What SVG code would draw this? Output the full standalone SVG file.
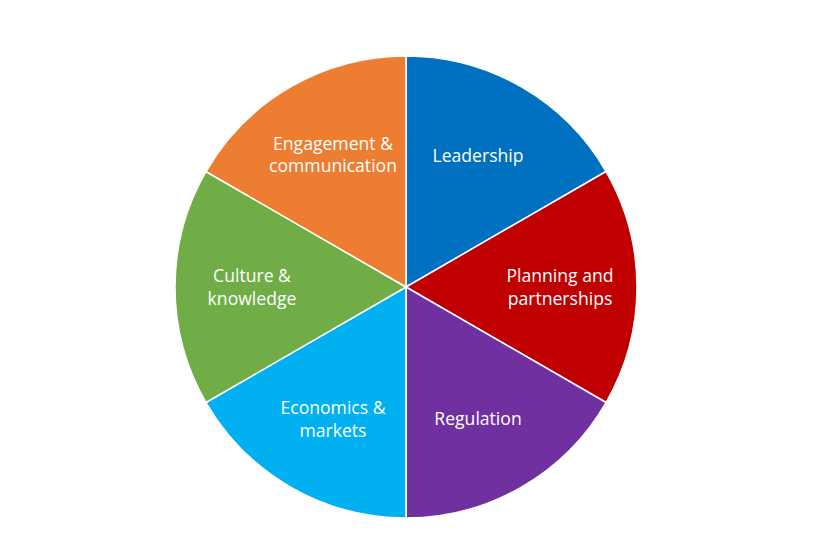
<svg xmlns="http://www.w3.org/2000/svg" width="825" height="551" viewBox="0 0 825 551">
<style>
.s{stroke:#fff;stroke-width:1.5;stroke-linejoin:round}
.t{font-family:"Open Sans","Liberation Sans",sans-serif;font-size:17.6px;fill:#fff;text-anchor:middle}
</style>
<rect width="825" height="551" fill="#fff"/>
<g id="leadership"><path class="s" fill="#0070C0" d="M406,287 L406,56 A231,231 0 0 1 606.05,171.5 Z"/><text class="t" x="478" y="162">Leadership</text></g>
<g id="planning"><path class="s" fill="#C00000" d="M406,287 L606.05,171.5 A231,231 0 0 1 606.05,402.5 Z"/><text class="t" x="560" y="282">Planning and</text><text class="t" x="560" y="305">partnerships</text></g>
<g id="regulation"><path class="s" fill="#7030A0" d="M406,287 L606.05,402.5 A231,231 0 0 1 406,518 Z"/><text class="t" x="478" y="425">Regulation</text></g>
<g id="economics"><path class="s" fill="#00B0F0" d="M406,287 L406,518 A231,231 0 0 1 205.95,402.5 Z"/><text class="t" x="333" y="414">Economics &amp;</text><text class="t" x="333" y="437">markets</text></g>
<g id="culture"><path class="s" fill="#70AD47" d="M406,287 L205.95,402.5 A231,231 0 0 1 205.95,171.5 Z"/><text class="t" x="252" y="282">Culture &amp;</text><text class="t" x="252" y="305">knowledge</text></g>
<g id="engagement"><path class="s" fill="#ED7D31" d="M406,287 L205.95,171.5 A231,231 0 0 1 406,56 Z"/><text class="t" x="333" y="150">Engagement &amp;</text><text class="t" x="333" y="172">communication</text></g>
<g id="connectors"></g>
</svg>
